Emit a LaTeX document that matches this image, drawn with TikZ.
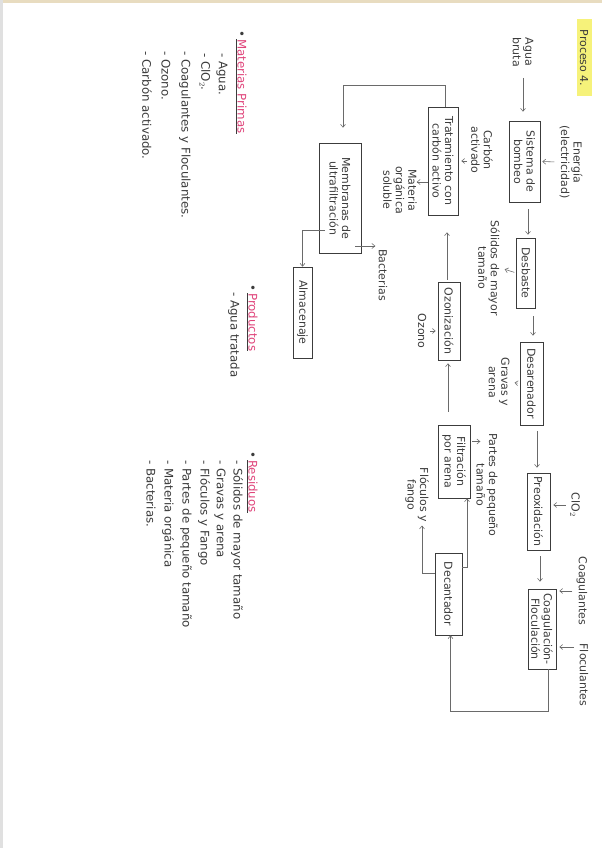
\documentclass[tikz,border=0pt]{standalone}
\usepackage{fontspec}
\setmainfont{DejaVu Sans}
\usetikzlibrary{arrows.meta,calc}
\definecolor{ink}{HTML}{3C3C3C}
\definecolor{lin}{HTML}{6A6A6A}
\definecolor{pinkc}{HTML}{E0457B}
\definecolor{hl}{HTML}{F6F27A}
\definecolor{edge}{HTML}{E8DCC0}
\begin{document}
\begin{tikzpicture}[x=1pt,y=-1pt,
  txt/.style={rotate=-90,font=\fontsize{11}{12.5}\selectfont,text=ink,align=center,inner sep=1pt},
  box/.style={txt,draw=ink,line width=0.6pt,inner sep=2pt},
  lst/.style={txt,anchor=west,align=left,font=\fontsize{11.8}{13}\selectfont},
  arr/.style={draw=lin,line width=0.55pt,-{Straight Barb[length=3pt,width=5pt]}},
]
\useasboundingbox (0,0) rectangle (602,848);
\fill[white] (0,0) rectangle (602,848);
\fill[edge] (0,0) rectangle (602,3);
\fill[black!12] (0,0) rectangle (3,848);

% title
\node[txt,fill=hl,inner sep=2pt,minimum width=77,minimum height=15] (title) at (584,58) {Proceso 4.};

% process boxes
\node[box,minimum width=81,minimum height=31] (bomb) at (524.5,161.5) {Sistema de\\bombeo};
\node[box,minimum width=70,minimum height=19] (desb) at (526,273) {Desbaste};
\node[box,minimum width=83,minimum height=23] (desa) at (531.5,383.5) {Desarenador};
\node[box,minimum width=77,minimum height=23] (preo) at (538.5,511.5) {Preoxidación};
\node[box,minimum width=80,minimum height=28] (coag) at (542,629) {Coagulación-\\Floculación};
\node[box,minimum width=82,minimum height=27] (deca) at (448.5,594) {Decantador};
\node[box,minimum width=73,minimum height=32] (filt) at (454,461.5) {Filtración\\por arena};
\node[box,minimum width=78,minimum height=22] (ozon) at (449,321) {Ozonización};
\node[box,minimum width=108,minimum height=30] (trat) at (443,161) {Tratamiento con\\carbón activo};
\node[box,minimum width=110,minimum height=42] (memb) at (340,198) {Membranas de\\ultrafiltración};
\node[box,minimum width=91,minimum height=19] (alma) at (302.5,312.5) {Almacenaje};

% labels
\node[txt] (agua) at (523,52) {Agua\\bruta};
\node[txt] (ener) at (571,162) {Energía\\(electricidad)};
\node[txt] (soli) at (489,268) {Sólidos de mayor\\tamaño};
\node[txt] (grav) at (499,382) {Gravas y\\arena};
\node[txt] (clo) at (575,505) {ClO$_2$};
\node[txt] (coaL) at (582,591) {Coagulantes};
\node[txt] (floL) at (584,675) {Floculantes};
\node[txt] (part) at (487,485) {Partes de pequeño\\tamaño};
\node[txt] (floc) at (417,495) {Flóculos y\\fango};
\node[txt] (ozoL) at (422,331) {Ozono};
\node[txt] (carb) at (482,150) {Carbón\\activado};
\node[txt] (mate) at (400,190) {Materia\\orgánica\\soluble};
\node[txt] (bact) at (383,275) {Bacterias};

% main chain connectors (vertical)
\draw[arr,shorten <=10pt,shorten >=9pt] (agua.east) -- (agua.east |- bomb.west);
\coordinate (t1) at ($(bomb.east)+(3.5,0)$);
\draw[arr,shorten <=7pt,shorten >=3pt] (t1) -- (t1 |- desb.west);
\coordinate (t2) at ($(desb.east)+(7,0)$);
\draw[arr,shorten <=8pt,shorten >=6pt] (t2) -- (t2 |- desa.west);
\coordinate (t3) at ($(desa.east)+(5.5,0)$);
\draw[arr,shorten <=6pt,shorten >=5pt] (t3) -- (t3 |- preo.west);
\coordinate (t4) at ($(preo.east)+(1.5,0)$);
\draw[arr,shorten <=6pt,shorten >=7pt] (t4) -- (t4 |- coag.west);

% side inputs / outputs
\draw[arr,shorten <=4pt,shorten >=2pt] (ener.south) -- (bomb.north);
\draw[arr,shorten <=2pt,shorten >=4pt] (desb.south) -- (soli.north);
\draw[arr,shorten <=2pt,shorten >=4pt] (desa.south) -- (grav.north);
\draw[arr,shorten <=3pt,shorten >=3pt] (clo.south) -- (clo.south -| preo.north);
\draw[arr,shorten <=3pt,shorten >=3pt] (coaL.south) -- (coaL.south -| coag.north);
\coordinate (fa) at (574,647);
\draw[arr,shorten >=3pt] (fa) -- (fa -| coag.north);

% return / branch connectors
\draw[arr] ($(coag.east)+(6,0)$) -- ++(0,42) -| ($(deca.east)+(2,0)$);
\draw[arr] ($(deca.north)+(0,-27)$) -| ($(filt.east)+(13,0)$);
\draw[arr,shorten >=2pt] ($(deca.south)+(0,-21)$) -| ($(floc.east)+(5,0)$);
\draw[arr,shorten <=2pt,shorten >=2pt] ($(filt.north)+(0,-20)$) -- ++(12,0) coordinate (pa);
\coordinate (t5) at ($(filt.west)+(-6,0)$);
\draw[arr,shorten <=13pt,shorten >=3pt] (t5) -- (t5 |- ozon.east);
\draw[arr,shorten <=3pt,shorten >=2pt] (ozoL.north) -- (ozoL.north -| ozon.south);
\coordinate (t6) at ($(ozon.west)+(-2,0)$);
\draw[arr,shorten <=2pt,shorten >=17pt] (t6) -- (t6 |- trat.east);
\draw[arr,shorten <=3pt,shorten >=3pt] (carb.south |- trat.north) -- (trat.north);
\draw[arr,shorten >=2pt] ($(trat.south)+(0,21)$) -- ($(trat.south)+(-13,21)$) coordinate (ma);
\draw[arr,shorten >=15pt] ($(trat.west)+(2,0)$) -- ++(0,-21) -| ($(memb.west)+(3,0)$);
\draw[arr,shorten >=2pt] ($(memb.north)+(-6,48)$) -- ($(memb.north)+(16,48)$) coordinate (ba);
\draw[arr] ($(memb.south)+(6,32)$) -| (alma.west);

% lists
\node[lst] (mpH) at (241,29) {\textbullet\,\underline{\textcolor{pinkc}{Materias Primas}}};
\node[lst] (mp1) at (222,52) {- Agua.};
\node[lst] (mp2) at (205,52) {- ClO$_2$.};
\node[lst] (mp3) at (185,50) {- Coagulantes y Floculantes.};
\node[lst] (mp4) at (166,50) {- Ozono.};
\node[lst] (mp5) at (147,50) {- Carbón activado.};

\node[lst] (prH) at (252,283) {\textbullet\,\underline{\textcolor{pinkc}{Productos}}};
\node[lst] (pr1) at (234,291) {- Agua tratada};

\node[lst] (reH) at (252,450) {\textbullet\,\underline{\textcolor{pinkc}{Residuos}}};
\node[lst] (re1) at (237,459) {- Sólidos de mayor tamaño};
\node[lst] (re2) at (220,459) {- Gravas y arena};
\node[lst] (re3) at (204,459) {- Flóculos y Fango};
\node[lst] (re4) at (186,459) {- Partes de pequeño tamaño};
\node[lst] (re5) at (168,459) {- Materia orgánica};
\node[lst] (re6) at (151,459) {- Bacterias.};
\end{tikzpicture}
\end{document}
